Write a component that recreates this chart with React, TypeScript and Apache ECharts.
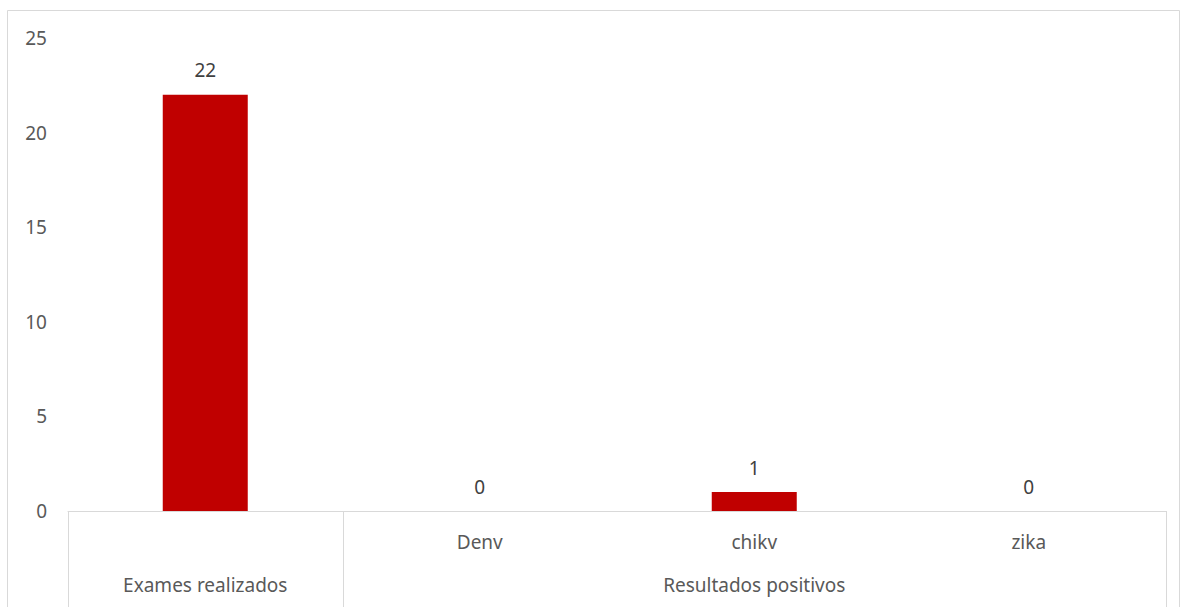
import React, { useEffect, useRef } from "react";
import * as echarts from "echarts";

const level1Labels = ["", "Denv", "chikv", "zika"];
const values = [22, 0, 1, 0];
const groupNames = ["Exames realizados", "Resultados positivos"];
const groupSpans = [1, 3];
const yTicks = [0, 5, 10, 15, 20, 25];

const FONT = "'Noto Sans', sans-serif";
const FS = 19;

export default function App() {
  const ref = useRef<HTMLDivElement>(null);
  useEffect(() => {
    const chart = echarts.init(ref.current!, undefined, { renderer: "svg" });
    chart.setOption({
      animation: false,
      backgroundColor: "#ffffff",
      grid: { left: 68, right: 15, top: 38, bottom: 96 },
      xAxis: {
        type: "category",
        data: level1Labels,
        axisLine: { show: true, lineStyle: { color: "#d9d9d9", width: 1 } },
        axisTick: { show: false },
        axisLabel: { color: "#595959", fontSize: FS, fontFamily: FONT, margin: 21 },
      },
      yAxis: {
        type: "value",
        min: yTicks[0],
        max: yTicks[yTicks.length - 1],
        interval: 5,
        axisLine: { show: false },
        axisTick: { show: false },
        splitLine: { show: false },
        axisLabel: { color: "#595959", fontSize: FS, fontFamily: FONT, margin: 21 },
      },
      series: [
        {
          type: "bar",
          data: values,
          barWidth: 85,
          itemStyle: { color: "#c00000" },
          label: {
            show: true,
            position: "top",
            distance: 15,
            color: "#404040",
            fontSize: FS,
            fontFamily: FONT,
          },
        },
      ],
    });

    const c0 = chart.convertToPixel({ xAxisIndex: 0 }, 0) as number;
    const c1 = chart.convertToPixel({ xAxisIndex: 0 }, 1) as number;
    const band = c1 - c0;
    const startX = c0 - band / 2;
    const yBase = chart.convertToPixel({ yAxisIndex: 0 }, 0) as number;
    const graphics: any[] = [
      {
        type: "rect",
        shape: { x: 7.5, y: 10.5, width: 1172, height: 640 },
        style: { fill: "none", stroke: "#d9d9d9", lineWidth: 1 },
        silent: true,
      },
    ];
    let idx = 0;
    const bounds = [startX];
    groupNames.forEach((name, gi) => {
      const s = startX + idx * band;
      idx += groupSpans[gi];
      const e = startX + idx * band;
      bounds.push(e);
      graphics.push({
        type: "text",
        x: (s + e) / 2,
        y: 585,
        style: {
          text: name,
          fill: "#595959",
          font: `${FS}px ${FONT}`,
          textAlign: "center",
          textVerticalAlign: "middle",
        },
      });
    });
    bounds.forEach((bx) => {
      graphics.push({
        type: "line",
        shape: { x1: Math.round(bx) + 0.5, y1: yBase, x2: Math.round(bx) + 0.5, y2: 620 },
        style: { stroke: "#d9d9d9", lineWidth: 1 },
        silent: true,
      });
    });
    chart.setOption({ graphic: graphics });
    return () => chart.dispose();
  }, []);
  return (
    <div
      ref={ref}
      style={{ position: "absolute", left: 0, top: 0, width: 1181, height: 607 }}
    />
  );
}
